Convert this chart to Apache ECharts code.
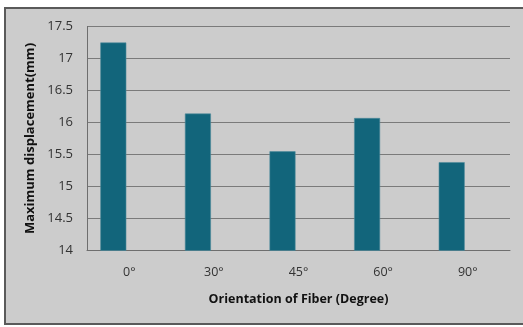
<!DOCTYPE html>
<html>
<head>
<meta charset="utf-8">
<script src="https://cdn.jsdelivr.net/npm/echarts@6/dist/echarts.min.js"></script>
<style>
  html, body { margin: 0; padding: 0; background: #ffffff; }
  #frame {
    position: absolute; left: 4px; top: 7px; width: 519px; height: 318px;
    background: #cccccc; border-left: 2px solid #5a5a5a; border-top: 2px solid #5a5a5a;
    border-bottom: 2px solid #5a5a5a; box-sizing: border-box;
  }
  #chart { position: absolute; left: 0; top: 0; width: 523px; height: 327px; }
</style>
</head>
<body>
<div id="frame"></div>
<div id="chart"></div>
<script>
// Fiber orientation vs. maximum displacement
const categories = ['0°', '30°', '45°', '60°', '90°'];
const displacement = [17.25, 16.14, 15.55, 16.07, 15.38];
// second (empty) series slot beside each bar
const emptySeries = [null, null, null, null, null];
const yTicks = [14, 14.5, 15, 15.5, 16, 16.5, 17, 17.5];

const chart = echarts.init(document.getElementById('chart'), null, { renderer: 'canvas' });
const font = 'Open Sans, Liberation Sans, sans-serif';

chart.setOption({
  backgroundColor: 'transparent',
  animation: false,
  grid: { left: 87, top: 26.5, right: 13, bottom: 76.5, containLabel: false },
  xAxis: {
    type: 'category',
    data: categories,
    name: 'Orientation of Fiber (Degree)',
    nameLocation: 'middle',
    nameGap: 42,
    nameTextStyle: { fontFamily: font, fontSize: 12.5, fontWeight: 'bold', color: '#111' },
    axisLine: { lineStyle: { color: '#6e6e6e', width: 1 } },
    axisTick: { show: false },
    axisLabel: { fontFamily: font, fontSize: 12.5, color: '#333', margin: 15 }
  },
  yAxis: {
    type: 'value',
    min: yTicks[0],
    max: yTicks[yTicks.length - 1],
    interval: 0.5,
    name: 'Maximum displacement(mm)',
    nameLocation: 'middle',
    nameGap: 44,
    nameTextStyle: { fontFamily: font, fontSize: 13, fontWeight: 'bold', color: '#111' },
    axisLine: { show: true, lineStyle: { color: '#6e6e6e', width: 1 } },
    axisTick: { show: false },
    axisLabel: { fontFamily: font, fontSize: 13, color: '#333', margin: 14 },
    splitLine: { lineStyle: { color: '#7a7a7a', width: 1 } }
  },
  series: [{
    type: 'bar',
    data: displacement,
    barWidth: 26,
    barGap: '23%',
    itemStyle: { color: '#12657b', borderColor: '#4f8c9c', borderWidth: 0.6 }
  }, {
    type: 'bar',
    data: emptySeries,
    barWidth: 26,
    itemStyle: { color: '#9e413e' }
  }]
});
</script>
</body>
</html>
